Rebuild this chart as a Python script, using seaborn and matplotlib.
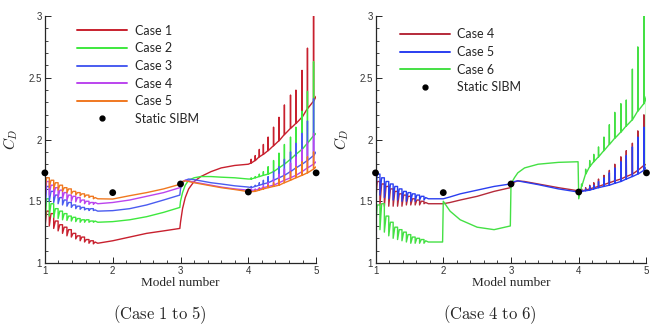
import matplotlib
matplotlib.use("Agg")
import matplotlib.pyplot as plt
import seaborn as sns
from matplotlib.lines import Line2D
from matplotlib.ticker import MultipleLocator

# ---- data ----
START_Y = 1.72

# sawtooth region (model 1 -> ~1.75)
TEETH_X = [1.00, 1.065, 1.13, 1.195, 1.26, 1.325, 1.39, 1.455, 1.52, 1.585, 1.65, 1.715]
# spiky region (model 4 -> 5)
SPIKE_X = [4.04, 4.10, 4.16, 4.22, 4.29, 4.37, 4.45, 4.53, 4.62, 4.70, 4.79, 4.87, 4.96]

# left panel, smooth middle part
MID_X_L = [1.78, 2.0, 2.25, 2.5, 2.75, 2.99, 3.0, 3.03, 3.07, 3.12, 3.2, 3.3, 3.45, 3.6, 3.8, 4.0]

case1_lo = [1.28, 1.30, 1.28, 1.26, 1.24, 1.22, 1.21, 1.195, 1.18, 1.17, 1.16, 1.155]
case1_hi = [1.42, 1.40, 1.34, 1.31, 1.29, 1.27, 1.24, 1.22, 1.21, 1.19, 1.18, 1.17]
case1_mid = [1.16, 1.18, 1.21, 1.24, 1.26, 1.28, 1.33, 1.44, 1.53, 1.60, 1.66, 1.70, 1.74, 1.77, 1.79, 1.80]
case1_base = [1.81, 1.83, 1.86, 1.88, 1.91, 1.95, 1.99, 2.04, 2.09, 2.13, 2.18, 2.25, 2.31]
case1_peak = [1.84, 1.87, 1.92, 1.96, 2.02, 2.10, 2.18, 2.28, 2.36, 2.40, 2.56, 2.74, 3.00]
case1_end = [2.35]

case2_lo = [1.30, 1.38, 1.37, 1.36, 1.35, 1.345, 1.34, 1.335, 1.33, 1.33, 1.33, 1.33]
case2_hi = [1.52, 1.48, 1.44, 1.42, 1.40, 1.38, 1.37, 1.36, 1.35, 1.35, 1.34, 1.34]
case2_mid = [1.33, 1.335, 1.35, 1.375, 1.41, 1.45, 1.50, 1.57, 1.63, 1.67, 1.69, 1.70, 1.70, 1.695, 1.69, 1.68]
case2_base = [1.68, 1.69, 1.70, 1.71, 1.72, 1.74, 1.77, 1.80, 1.84, 1.88, 1.92, 1.97, 2.03]
case2_peak = [1.69, 1.70, 1.72, 1.74, 1.78, 1.83, 1.89, 1.96, 2.02, 2.10, 2.23, 2.39, 2.63]
case2_end = [2.05]

case3_lo = [1.40, 1.50, 1.49, 1.48, 1.47, 1.46, 1.45, 1.44, 1.435, 1.43, 1.425, 1.425]
case3_hi = [1.62, 1.58, 1.55, 1.53, 1.51, 1.49, 1.47, 1.46, 1.45, 1.44, 1.44, 1.43]
case3_mid = [1.42, 1.424, 1.44, 1.47, 1.51, 1.55, 1.60, 1.65, 1.67, 1.68, 1.675, 1.665, 1.65, 1.64, 1.625, 1.615]
case3_base = [1.61, 1.62, 1.63, 1.64, 1.65, 1.67, 1.69, 1.71, 1.74, 1.77, 1.80, 1.83, 1.87]
case3_peak = [1.62, 1.63, 1.65, 1.67, 1.70, 1.74, 1.78, 1.84, 1.90, 1.97, 2.05, 2.15, 2.33]
case3_end = [1.90]

case4_lo = [1.50, 1.55, 1.54, 1.53, 1.52, 1.51, 1.50, 1.495, 1.49, 1.48, 1.475, 1.475]
case4_hi = [1.66, 1.63, 1.61, 1.59, 1.57, 1.55, 1.54, 1.53, 1.51, 1.50, 1.49, 1.49]
case4_mid = [1.48, 1.49, 1.51, 1.54, 1.57, 1.61, 1.64, 1.66, 1.67, 1.665, 1.655, 1.645, 1.63, 1.615, 1.60, 1.59]
case4_base = [1.59, 1.59, 1.60, 1.61, 1.62, 1.63, 1.65, 1.67, 1.69, 1.71, 1.74, 1.77, 1.80]
case4_peak = [1.60, 1.60, 1.61, 1.63, 1.65, 1.68, 1.72, 1.76, 1.81, 1.86, 1.92, 1.98, 2.05]
case4_end = [1.82]

case5_lo = [1.58, 1.61, 1.60, 1.59, 1.58, 1.57, 1.56, 1.55, 1.545, 1.535, 1.53, 1.52]
case5_hi = [1.69, 1.67, 1.65, 1.63, 1.61, 1.60, 1.58, 1.57, 1.56, 1.55, 1.54, 1.53]
case5_mid = [1.52, 1.518, 1.545, 1.57, 1.60, 1.637, 1.645, 1.66, 1.665, 1.66, 1.65, 1.64, 1.625, 1.61, 1.595, 1.578]
case5_base = [1.578, 1.58, 1.59, 1.60, 1.61, 1.62, 1.63, 1.65, 1.67, 1.69, 1.71, 1.73, 1.76]
case5_peak = [1.58, 1.59, 1.60, 1.61, 1.63, 1.65, 1.68, 1.71, 1.74, 1.78, 1.82, 1.86, 1.90]
case5_end = [1.78]

# right panel, smooth middle part
MID_X_R = [1.78, 1.99, 2.0, 2.1, 2.25, 2.5, 2.75, 2.99, 3.0, 3.05, 3.1, 3.2, 3.4, 3.7, 3.99, 4.0]

r4_lo = [1.48, 1.47, 1.46, 1.46, 1.46, 1.46, 1.46, 1.47, 1.47, 1.47, 1.47, 1.48]
r4_hi = [1.66, 1.64, 1.62, 1.60, 1.58, 1.56, 1.55, 1.54, 1.52, 1.51, 1.50, 1.49]
r4_mid = [1.48, 1.48, 1.48, 1.49, 1.51, 1.54, 1.58, 1.61, 1.62, 1.655, 1.665, 1.66, 1.64, 1.61, 1.585, 1.58]
r4_base = [1.585, 1.59, 1.60, 1.61, 1.62, 1.635, 1.65, 1.665, 1.68, 1.70, 1.72, 1.75, 1.79]
r4_peak = [1.60, 1.61, 1.63, 1.65, 1.68, 1.71, 1.75, 1.80, 1.86, 1.91, 1.97, 2.07, 2.20]
r4_end = [1.80]

r5_lo = [1.56, 1.55, 1.53, 1.52, 1.51, 1.51, 1.50, 1.50, 1.50, 1.50, 1.51, 1.51]
r5_hi = [1.72, 1.69, 1.66, 1.64, 1.62, 1.60, 1.58, 1.57, 1.56, 1.55, 1.54, 1.53]
r5_mid = [1.52, 1.52, 1.52, 1.535, 1.56, 1.59, 1.62, 1.64, 1.645, 1.66, 1.665, 1.655, 1.635, 1.60, 1.575, 1.57]
r5_base = [1.58, 1.585, 1.59, 1.60, 1.61, 1.62, 1.63, 1.645, 1.66, 1.68, 1.70, 1.72, 1.75]
r5_peak = [1.59, 1.60, 1.62, 1.63, 1.66, 1.69, 1.73, 1.77, 1.82, 1.87, 1.94, 2.02, 2.10]
r5_end = [1.78]

r6_lo = [1.28, 1.27, 1.25, 1.22, 1.20, 1.19, 1.18, 1.17, 1.16, 1.16, 1.16, 1.16]
r6_hi = [1.47, 1.48, 1.38, 1.33, 1.29, 1.27, 1.25, 1.23, 1.21, 1.20, 1.19, 1.18]
r6_mid = [1.17, 1.17, 1.50, 1.42, 1.35, 1.29, 1.27, 1.30, 1.64, 1.69, 1.73, 1.77, 1.80, 1.815, 1.82, 1.52]
r6_base = [1.62, 1.72, 1.78, 1.82, 1.86, 1.91, 1.96, 2.01, 2.06, 2.11, 2.16, 2.23, 2.29]
r6_peak = [1.64, 1.76, 1.83, 1.88, 1.94, 2.02, 2.12, 2.22, 2.29, 2.32, 2.57, 2.75, 3.00]
r6_end = [2.35, 1.77]

SIBM_X = [1, 2, 3, 4, 5]
SIBM_Y = [1.73, 1.57, 1.64, 1.575, 1.73]

X_TICKS = [1, 2, 3, 4, 5]
Y_TICKS = [1, 1.5, 2, 2.5, 3]
Y_TICK_LABELS = ["1", "1.5", "2", "2.5", "3"]


def build_curve(lo, hi, mid_x, mid_y, base, peak, end):
    # assemble the line vertices: sawtooth, smooth middle, spikes, end
    xs, ys = [1.0], [START_Y]
    n = len(TEETH_X)
    for k, x0 in enumerate(TEETH_X):
        xs += [x0, x0 + 0.025]
        ys += [lo[k], hi[k]]
        if k < n - 1:
            xs.append(TEETH_X[k + 1])
            ys.append(hi[k])
    xs += list(mid_x)
    ys += list(mid_y)
    for k, sx in enumerate(SPIKE_X):
        xs += [sx, sx + 0.002, sx + 0.004]
        ys += [base[k], peak[k], base[k]]
    for e in end:
        xs.append(5.0)
        ys.append(e)
    return xs, ys


left_cases = [
    ("Case 1", "#c8202e", case1_lo, case1_hi, case1_mid, case1_base, case1_peak, case1_end),
    ("Case 2", "#3ee83e", case2_lo, case2_hi, case2_mid, case2_base, case2_peak, case2_end),
    ("Case 3", "#4a5cf0", case3_lo, case3_hi, case3_mid, case3_base, case3_peak, case3_end),
    ("Case 4", "#bb44ee", case4_lo, case4_hi, case4_mid, case4_base, case4_peak, case4_end),
    ("Case 5", "#f07820", case5_lo, case5_hi, case5_mid, case5_base, case5_peak, case5_end),
]
right_cases = [
    ("Case 4", "#b52a3a", r4_lo, r4_hi, r4_mid, r4_base, r4_peak, r4_end),
    ("Case 5", "#2a3ef0", r5_lo, r5_hi, r5_mid, r5_base, r5_peak, r5_end),
    ("Case 6", "#44e044", r6_lo, r6_hi, r6_mid, r6_base, r6_peak, r6_end),
]

sns.set_style("ticks")
plt.rcParams["mathtext.fontset"] = "cm"

fig = plt.figure(figsize=(6.6, 3.29), dpi=100)
ax_l = fig.add_axes([0.068, 0.2006, 0.411, 0.7507])
ax_r = fig.add_axes([0.569, 0.2006, 0.4105, 0.7507])


def draw_panel(ax, cases, mid_x, legend_anchor):
    handles = []
    for name, color, lo, hi, my, base, peak, end in cases:
        xs, ys = build_curve(lo, hi, mid_x, my, base, peak, end)
        sns.lineplot(x=xs, y=ys, ax=ax, color=color, lw=1.0,
                     estimator=None, sort=False)
        handles.append(Line2D([], [], color=color, lw=1.4, label=name))
    sns.scatterplot(x=SIBM_X, y=SIBM_Y, ax=ax, color="black", s=24,
                    edgecolor="none", zorder=5, clip_on=False)
    handles.append(Line2D([], [], color="black", marker="o", ms=3.5, lw=0,
                          label="Static SIBM"))

    ax.set_xlim(1, 5)
    ax.set_ylim(1, 3)
    sns.despine(ax=ax)
    ax.spines["left"].set_linewidth(0.9)
    ax.spines["bottom"].set_linewidth(0.9)
    ax.set_xticks(X_TICKS)
    ax.set_xticklabels([str(t) for t in X_TICKS])
    ax.set_yticks(Y_TICKS)
    ax.set_yticklabels(Y_TICK_LABELS)
    ax.xaxis.set_minor_locator(MultipleLocator(0.2))
    ax.yaxis.set_minor_locator(MultipleLocator(0.1))
    ax.tick_params(which="major", direction="in", length=4, width=0.7,
                   labelsize=7, labelcolor="#333333", pad=2)
    ax.tick_params(which="minor", direction="in", length=2, width=0.6)
    for lab in ax.get_xticklabels() + ax.get_yticklabels():
        lab.set_fontfamily("Liberation Sans")

    ax.set_xlabel("Model number", fontfamily="Liberation Serif", fontsize=9.5,
                  labelpad=1)
    ax.set_ylabel(r"$C_D$", fontsize=11, labelpad=6)

    ax.legend(handles=handles, loc="upper left", bbox_to_anchor=legend_anchor,
              frameon=False, handlelength=4.0, handletextpad=0.6,
              labelspacing=0.45, prop={"family": "Lato", "size": 9},
              borderaxespad=0)


draw_panel(ax_l, left_cases, MID_X_L, (0.10, 0.985))
draw_panel(ax_r, right_cases, MID_X_R, (0.07, 0.97))

fig.text(0.2424, 0.045, r"$\mathrm{(Case\ 1\ to\ 5)}$", ha="center", va="center", fontsize=12)
fig.text(0.742, 0.045, r"$\mathrm{(Case\ 4\ to\ 6)}$", ha="center", va="center", fontsize=12)

fig.savefig("out.png", dpi=100)
